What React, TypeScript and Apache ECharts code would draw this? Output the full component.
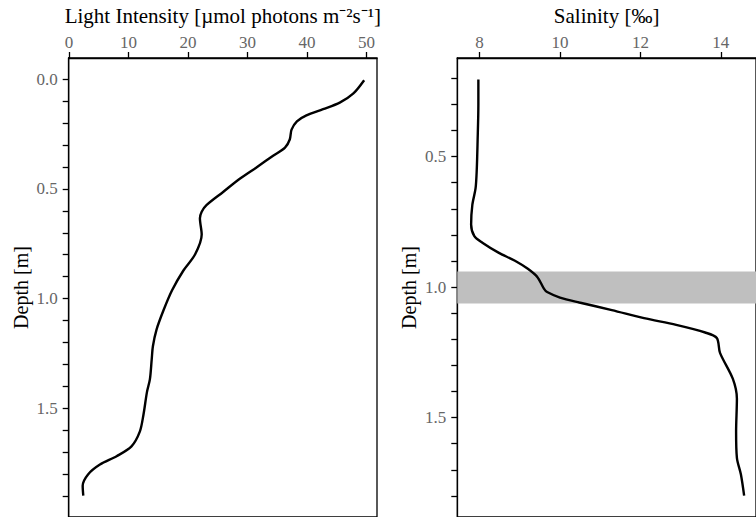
import React, { useEffect, useRef } from "react";
import * as echarts from "echarts";

// Light intensity profile
const lightDepth = [0.005, 0.065, 0.107, 0.137, 0.165, 0.192, 0.23, 0.275, 0.312, 0.349, 0.402, 0.454, 0.514, 0.574, 0.604, 0.634, 0.708, 0.798, 0.873, 0.963, 1.052, 1.142, 1.217, 1.277, 1.367, 1.426, 1.531, 1.606, 1.673, 1.718, 1.756, 1.801, 1.853, 1.898];
const lightValues = [49.6, 47.8, 45.5, 42.7, 39.9, 38.3, 37.4, 37.1, 36.3, 34.3, 31.5, 28.7, 25.9, 23.1, 22.3, 22.0, 22.3, 21.2, 19.2, 17.3, 15.9, 14.7, 14.1, 13.9, 13.6, 13.1, 12.5, 11.9, 10.5, 8.0, 5.2, 3.2, 2.3, 2.4];

// Salinity profile
const salDepth = [0.204, 0.3, 0.446, 0.55, 0.622, 0.685, 0.76, 0.805, 0.83, 0.868, 0.899, 0.93, 0.962, 1.006, 1.019, 1.04, 1.059, 1.088, 1.119, 1.145, 1.174, 1.195, 1.252, 1.352, 1.428, 1.554, 1.654, 1.718, 1.799];
const salValues = [7.97, 7.97, 7.95, 7.93, 7.9, 7.82, 7.79, 7.87, 8.07, 8.47, 8.88, 9.2, 9.44, 9.6, 9.68, 10.0, 10.48, 11.29, 12.09, 12.89, 13.61, 13.9, 13.98, 14.3, 14.4, 14.38, 14.4, 14.5, 14.58];

// Shaded depth band on the salinity panel
const bandDepth = [0.94, 1.063];

// Tick values
const lightTicks = [0, 10, 20, 30, 40, 50];
const salTicks = [8, 10, 12, 14];
const lightDepthTicks = [0, 0.1, 0.2, 0.3, 0.4, 0.5, 0.6, 0.7, 0.8, 0.9, 1.0, 1.1, 1.2, 1.3, 1.4, 1.5, 1.6, 1.7, 1.8, 1.9];
const lightDepthLabels = [0, 0.5, 1.0, 1.5];
const salDepthTicks = [0.2, 0.3, 0.4, 0.5, 0.6, 0.7, 0.8, 0.9, 1.0, 1.1, 1.2, 1.3, 1.4, 1.5, 1.6, 1.7, 1.8];
const salDepthLabels = [0.5, 1.0, 1.5];

const FONT = '"Liberation Serif", "Times New Roman", serif';

export default function App() {
  const ref = useRef<HTMLDivElement>(null);

  useEffect(() => {
    if (!ref.current) return;
    const chart = echarts.init(ref.current, undefined, { renderer: "svg" });

    const axisLine = { show: true, onZero: false, lineStyle: { color: "#000", width: 1.3 } };
    const tickStyle = { color: "#000", width: 1.3 };
    const labelStyle = { color: "#666", fontSize: 17, fontFamily: FONT };
    const nameStyle = { color: "#000", fontSize: 21, fontFamily: FONT };

    const xAxisBase = (min: number, max: number, ticks: number[], name: string, gridIndex: number) => ({
      type: "value",
      gridIndex,
      position: "top",
      min,
      max,
      name,
      nameLocation: "middle",
      nameGap: 32,
      nameTextStyle: nameStyle,
      axisLine,
      axisTick: { show: true, length: 6, customValues: ticks, lineStyle: tickStyle },
      axisLabel: { customValues: ticks, margin: 7, ...labelStyle },
      splitLine: { show: false },
    });

    const yAxisBase = (min: number, max: number, ticks: number[], labels: number[], gridIndex: number) => ({
      type: "value",
      gridIndex,
      inverse: true,
      min,
      max,
      name: "Depth [m]",
      nameLocation: "middle",
      nameGap: 38,
      nameTextStyle: { ...nameStyle, fontSize: 20 },
      axisLine,
      axisTick: { show: true, length: 6, customValues: ticks, lineStyle: tickStyle },
      axisLabel: {
        customValues: labels,
        margin: 11,
        formatter: (v: number) => v.toFixed(1),
        ...labelStyle,
      },
      splitLine: { show: false },
    });

    chart.setOption({
      animation: false,
      backgroundColor: "#fff",
      grid: [
        { left: 68.7, top: 54, width: 308.3, height: 466, show: true, borderColor: "#000", borderWidth: 1.3, containLabel: false },
        { left: 457.3, top: 54.3, width: 308.3, height: 465.7, show: true, borderColor: "#000", borderWidth: 1.3, containLabel: false },
      ],
      xAxis: [
        xAxisBase(-0.05, 51.76, lightTicks, "Light Intensity [µmol photons m⁻²s⁻¹]", 0),
        xAxisBase(7.446, 14.875, salTicks, "Salinity [‰]", 1),
      ],
      yAxis: [
        yAxisBase(-0.0965, 1.995, lightDepthTicks, lightDepthLabels, 0),
        yAxisBase(0.122, 1.881, salDepthTicks, salDepthLabels, 1),
      ],
      series: [
        {
          type: "line",
          xAxisIndex: 0,
          yAxisIndex: 0,
          data: lightValues.map((v, i) => [v, lightDepth[i]]),
          showSymbol: false,
          smooth: 0.3,
          lineStyle: { color: "#000", width: 2.4 },
          z: 3,
        },
        {
          type: "line",
          xAxisIndex: 1,
          yAxisIndex: 1,
          data: salValues.map((v, i) => [v, salDepth[i]]),
          showSymbol: false,
          smooth: 0.3,
          lineStyle: { color: "#000", width: 2.4 },
          z: 3,
          markArea: {
            silent: true,
            itemStyle: { color: "#bfbfbf", opacity: 1 },
            data: [[{ yAxis: bandDepth[0] }, { yAxis: bandDepth[1] }]],
          },
        },
      ],
    });

    return () => chart.dispose();
  }, []);

  return (
    <div
      ref={ref}
      style={{ position: "fixed", left: 0, top: 0, width: 756, height: 517, background: "#fff" }}
    />
  );
}
